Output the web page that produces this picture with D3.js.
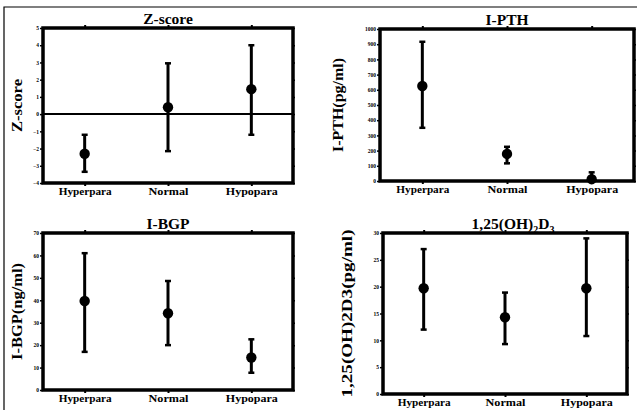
<!DOCTYPE html>
<html>
<head>
<meta charset="utf-8">
<script src="https://cdn.jsdelivr.net/npm/d3@7"></script>
<style>
  body { margin: 0; background: #fff; }
  svg { display: block; }
  text { font-family: "Liberation Serif", "DejaVu Serif", serif; font-weight: bold; fill: #000; }
</style>
</head>
<body>
<script>
// categories
const groups = ["Hyperpara", "Normal", "Hypopara"];
const groupLen = [53, 40, 52];

// Z-score
const zMean = [-2.3, 0.4, 1.45];
const zLow  = [-3.35, -2.15, -1.2];
const zHigh = [-1.2, 2.95, 4.0];
const zTicks = [-4, -3, -2, -1, 0, 1, 2, 3, 4, 5];

// I-PTH (pg/ml)
const pthMean = [625, 178, 12];
const pthLow  = [350, 116, 0];
const pthHigh = [916, 225, 57];
const pthTicks = [0, 100, 200, 300, 400, 500, 600, 700, 800, 900, 1000];

// I-BGP (ng/ml)
const bgpMean = [39.7, 34.2, 14.5];
const bgpLow  = [17, 20, 7.7];
const bgpHigh = [61, 48.6, 22.6];
const bgpTicks = [0, 10, 20, 30, 40, 50, 60, 70];

// 1,25(OH)2D3 (pg/ml)
const vdMean = [19.7, 14.3, 19.7];
const vdLow  = [12, 9.3, 10.8];
const vdHigh = [27, 18.9, 29];
const vdTicks = [0, 5, 10, 15, 20, 25, 30];

const W = 637, H = 410;
const svg = d3.select("body").append("svg").attr("width", W).attr("height", H);

// outer frame (left + top edges of the scanned figure)
svg.append("path").attr("d", `M4,${H} V7 H${W}`).attr("fill", "none").attr("stroke", "#000").attr("stroke-width", 1.2);

const panels = [
  {title: "Z-score", ylab: "Z-score", labLen: 53, mean: zMean, low: zLow, high: zHigh, ticks: zTicks,
   box: [43, 28, 293, 183], ylabX: 17, zero: true},
  {title: "I-PTH", ylab: "I-PTH(pg/ml)", labLen: 94, mean: pthMean, low: pthLow, high: pthHigh, ticks: pthTicks,
   box: [380, 29, 634, 181], ylabX: 338},
  {title: "I-BGP", ylab: "I-BGP(ng/ml)", labLen: 97, mean: bgpMean, low: bgpLow, high: bgpHigh, ticks: bgpTicks,
   box: [43, 233, 293, 390], ylabX: 17},
  {title: "1,25(OH)2D3", ylab: "1,25(OH)2D3(pg/ml)", labLen: 168, mean: vdMean, low: vdLow, high: vdHigh, ticks: vdTicks,
   box: [383, 233, 627, 394], ylabX: 347, sub: true}
];

panels.forEach(p => {
  const [x0, y0, x1, y1] = p.box;
  const g = svg.append("g");

  const x = d3.scalePoint().domain(groups).range([x0, x1]).padding(0.5);
  const y = d3.scaleLinear().domain(d3.extent(p.ticks)).range([y1, y0]);

  // left axis with tiny labels
  const yAxis = g.append("g").attr("transform", `translate(${x0},0)`)
    .call(d3.axisLeft(y).tickValues(p.ticks).tickFormat(d3.format("d")).tickSize(3).tickPadding(1));
  yAxis.select(".domain").remove();
  yAxis.selectAll("line").attr("stroke-width", 1.5);
  yAxis.selectAll("text").style("font-family", "Liberation Serif, serif").style("font-weight", "bold")
    .attr("font-size", 5.5);

  // right-side small ticks
  g.append("g").attr("transform", `translate(${x1},0)`)
    .call(d3.axisRight(y).tickValues(p.ticks).tickSize(2).tickFormat(""))
    .call(a => a.select(".domain").remove())
    .selectAll("line").attr("stroke-width", 1.5);

  // bottom category axis
  const xAxis = g.append("g").attr("transform", `translate(0,${y1})`)
    .call(d3.axisBottom(x).tickSize(3).tickPadding(2));
  xAxis.select(".domain").remove();
  xAxis.selectAll("line").attr("stroke-width", 2);
  xAxis.selectAll("text").style("font-family", "Liberation Serif, serif").style("font-weight", "bold")
    .attr("font-size", 10)
    .attr("textLength", (d, i) => groupLen[i]).attr("lengthAdjust", "spacingAndGlyphs");

  // top ticks
  g.append("g").attr("transform", `translate(0,${y0})`)
    .call(d3.axisTop(x).tickSize(3).tickFormat(""))
    .call(a => a.select(".domain").remove())
    .selectAll("line").attr("stroke-width", 2);

  if (p.zero) {
    g.append("line").attr("x1", x0).attr("x2", x1).attr("y1", y(0)).attr("y2", y(0))
      .attr("stroke", "#000").attr("stroke-width", 2);
  }

  // error bars
  const rows = groups.map((k, i) => ({k, m: p.mean[i], lo: p.low[i], hi: p.high[i]}));
  const eb = g.append("g").selectAll("g").data(rows).join("g");
  eb.append("line").attr("x1", d => x(d.k)).attr("x2", d => x(d.k))
    .attr("y1", d => y(d.lo)).attr("y2", d => y(d.hi)).attr("stroke", "#000").attr("stroke-width", 3);
  eb.append("line").attr("x1", d => x(d.k) - 3).attr("x2", d => x(d.k) + 3)
    .attr("y1", d => y(d.hi)).attr("y2", d => y(d.hi)).attr("stroke", "#000").attr("stroke-width", 2.5);
  eb.append("line").attr("x1", d => x(d.k) - 3).attr("x2", d => x(d.k) + 3)
    .attr("y1", d => y(d.lo)).attr("y2", d => y(d.lo)).attr("stroke", "#000").attr("stroke-width", 2.5);
  eb.append("circle").attr("cx", d => x(d.k)).attr("cy", d => y(d.m)).attr("r", 5.2).attr("fill", "#000");

  // title
  const t = g.append("text").attr("x", (x0 + x1) / 2 + (p.sub ? 8 : 0)).attr("y", y0 - 4)
    .attr("text-anchor", "middle").attr("font-size", 15.5);
  if (p.sub) {
    t.append("tspan").text("1,25(OH)");
    t.append("tspan").text("2").attr("font-size", 10).attr("dy", 4);
    t.append("tspan").text("D").attr("dy", -4);
    t.append("tspan").text("3").attr("font-size", 10).attr("dy", 4);
  } else {
    t.text(p.title);
  }

  // y label
  g.append("text")
    .attr("transform", `translate(${p.ylabX},${(y0 + y1) / 2}) rotate(-90)`)
    .attr("text-anchor", "middle").attr("dy", "0.35em")
    .attr("font-size", 14)
    .attr("textLength", p.labLen).attr("lengthAdjust", "spacingAndGlyphs")
    .text(p.ylab);
});

// heavy plot frames on top of everything
svg.append("g").selectAll("rect").data(panels).join("rect")
  .attr("x", d => d.box[0]).attr("y", d => d.box[1])
  .attr("width", d => d.box[2] - d.box[0]).attr("height", d => d.box[3] - d.box[1])
  .attr("fill", "none").attr("stroke", "#000").attr("stroke-width", 3.5);
</script>
</body>
</html>
